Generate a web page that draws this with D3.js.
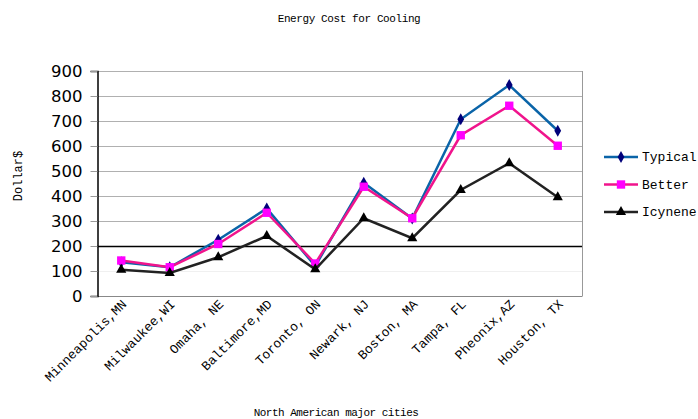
<!DOCTYPE html>
<html>
<head>
<meta charset="utf-8">
<script src="https://cdn.jsdelivr.net/npm/d3@7"></script>
<style>
  body { margin: 0; background: #fff; }
  text { fill: #000; }
  .mono { font-family: "Liberation Mono", "Courier New", monospace; }
</style>
</head>
<body>
<div id="chart"></div>
<script>
const cities = ["Minneapolis,MN", "Milwaukee,WI", "Omaha, NE", "Baltimore,MD", "Toronto, ON",
  "Newark, NJ", "Boston, MA", "Tampa, FL", "Pheonix,AZ", "Houston, TX"];
const typical = [135, 115, 225, 350, 120, 453, 310, 707, 844, 661];
const better = [142, 115, 208, 333, 130, 437, 311, 643, 761, 601];
const icynene = [105, 92, 155, 240, 107, 311, 231, 424, 531, 395];
const yTicks = [0, 100, 200, 300, 400, 500, 600, 700, 800, 900];

const width = 698, height = 419;
const plotLeft = 97, plotRight = 582, plotTop = 71, plotBottom = 296;

const svg = d3.select('#chart')
  .append('svg')
    .attr('width', width)
    .attr('height', height);

const x = d3.scaleBand()
  .domain(cities)
  .range([plotLeft, plotRight]);

const y = d3.scaleLinear()
  .domain([0, 900])
  .range([plotBottom, plotTop]);

// gridlines
svg.selectAll('.grid')
  .data(yTicks.filter(d => d > 0))
  .join('line')
    .attr('x1', plotLeft)
    .attr('x2', plotRight)
    .attr('y1', d => Math.round(y(d)) + .5)
    .attr('y2', d => Math.round(y(d)) + .5)
    .attr('stroke', d => d === 200 ? '#000' : (d === 100 ? '#f0f0f0' : '#b0b0b0'))
    .attr('stroke-width', d => d === 200 ? 1.5 : 1);

// plot border (right + bottom)
svg.append('line')
  .attr('x1', plotRight + .5).attr('x2', plotRight + .5)
  .attr('y1', plotTop).attr('y2', plotBottom)
  .attr('stroke', '#999');
svg.append('line')
  .attr('x1', plotLeft).attr('x2', plotRight + .5)
  .attr('y1', plotBottom + .5).attr('y2', plotBottom + .5)
  .attr('stroke', '#888');

// y axis
const yAxis = svg.append('g')
  .attr('transform', `translate(${plotLeft + .5},0)`)
  .call(d3.axisLeft(y).tickValues(yTicks).tickSize(7).tickPadding(8));
yAxis.select('.domain').attr('stroke', '#000').attr('stroke-width', 1.5);
yAxis.selectAll('.tick line').attr('stroke', '#999');
yAxis.selectAll('.tick text')
  .attr('font-family', '"DejaVu Sans", sans-serif')
  .attr('font-size', 16.5)
  .attr('fill', '#000');

// x labels
svg.selectAll('.xlabel')
  .data(cities)
  .join('text')
    .attr('class', 'mono')
    .attr('font-size', 13)
    .attr('text-anchor', 'end')
    .attr('transform', d => `translate(${x(d) + x.bandwidth() / 2 + 6},${plotBottom + 9}) rotate(-45)`)
    .text(d => d);

const series = [
  { name: 'Typical', values: typical, line: '#0a64a8', mark: '#00007a', shape: d3.symbolDiamond, size: 40 },
  { name: 'Better', values: better, line: '#f0148c', mark: '#ff00ff', shape: d3.symbolSquare, size: 70 },
  { name: 'Icynene', values: icynene, line: '#222', mark: '#000', shape: d3.symbolTriangle, size: 45 }
];

const line = d3.line()
  .x((d, i) => x(cities[i]) + x.bandwidth() / 2)
  .y(d => y(d));

series.forEach(s => {
  svg.append('path')
    .datum(s.values)
    .attr('d', line)
    .attr('fill', 'none')
    .attr('stroke', s.line)
    .attr('stroke-width', 2.5);
  svg.selectAll(null)
    .data(s.values)
    .join('path')
      .attr('d', d3.symbol().type(s.shape).size(s.size))
      .attr('transform', (d, i) => `translate(${x(cities[i]) + x.bandwidth() / 2},${y(d)})`)
      .attr('fill', s.mark);
});

// legend
const legend = svg.append('g');
series.forEach((s, i) => {
  const ly = 157 + i * 27.5;
  legend.append('line')
    .attr('x1', 604).attr('x2', 638)
    .attr('y1', ly).attr('y2', ly)
    .attr('stroke', s.line)
    .attr('stroke-width', 2.5);
  legend.append('path')
    .attr('d', d3.symbol().type(s.shape).size(s.size))
    .attr('transform', `translate(621,${ly})`)
    .attr('fill', s.mark);
  legend.append('text')
    .attr('class', 'mono')
    .attr('x', 642)
    .attr('y', ly + 4)
    .attr('font-size', 13)
    .text(s.name);
});

// titles
svg.append('text')
  .attr('class', 'mono')
  .attr('x', 349)
  .attr('y', 22)
  .attr('text-anchor', 'middle')
  .attr('font-size', 11)
  .attr('letter-spacing', -0.4)
  .text('Energy Cost for Cooling');

svg.append('text')
  .attr('class', 'mono')
  .attr('x', 336)
  .attr('y', 416)
  .attr('text-anchor', 'middle')
  .attr('font-size', 11)
  .attr('letter-spacing', -0.5)
  .text('North American major cities');

svg.append('text')
  .attr('class', 'mono')
  .attr('transform', 'translate(22,176) rotate(-90)')
  .attr('text-anchor', 'middle')
  .attr('font-size', 12)
  .text('Dollar$');
</script>
</body>
</html>
